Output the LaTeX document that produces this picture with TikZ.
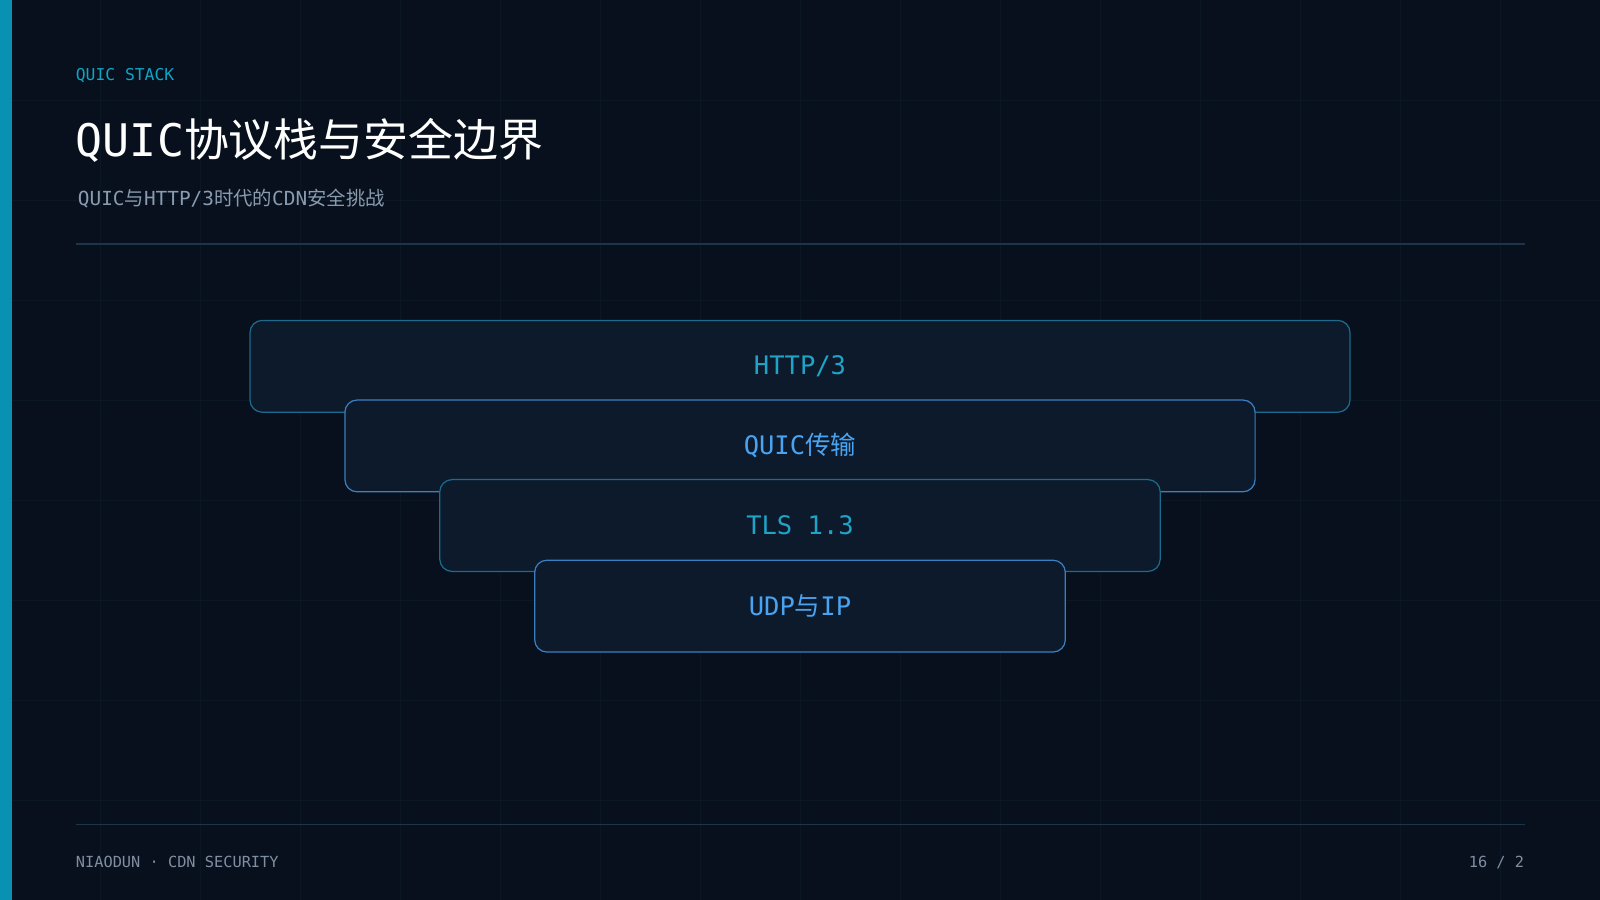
\documentclass[tikz,border=0pt]{standalone}
\usepackage{fontspec}
\setmainfont{DejaVu Sans Mono}
\newfontfamily\cjk{Noto Sans CJK SC}
\newfontfamily\mono{DejaVu Sans Mono}
\begin{document}
\begin{tikzpicture}[x=0.5pt,y=-0.5pt,
  box/.style={draw=#1,line width=0.6pt,fill=boxfill,rounded corners=6pt},
  lbl/.style={font=\fontsize{12.5}{15}\selectfont\mono,anchor=center}]
\definecolor{bg}{HTML}{07101C}
\definecolor{gridc}{HTML}{0B1724}
\definecolor{bar}{HTML}{0891B2}
\definecolor{kick}{HTML}{0EA5C6}
\definecolor{sub}{HTML}{8A9BB0}
\definecolor{rule}{HTML}{1E3448}
\definecolor{boxfill}{HTML}{0C1A2C}
\definecolor{cyanb}{HTML}{1C6B8C}
\definecolor{blueb}{HTML}{3B7FC0}
\definecolor{cyant}{HTML}{1FA3C6}
\definecolor{bluet}{HTML}{4AA3F0}
\definecolor{foot}{HTML}{7F8EA0}
\useasboundingbox (0,0) rectangle (1568,882);
\fill[bg] (0,0) rectangle (1568,882);
\foreach \x in {98,196,...,1568} \draw[gridc,line width=0.4pt] (\x,0) -- (\x,882);
\foreach \y in {98,196,...,882} \draw[gridc,line width=0.4pt] (0,\y) -- (1568,\y);
\fill[bar] (0,0) rectangle (12,882);
\node[anchor=west,inner sep=0,text=kick,font=\fontsize{8}{10}\selectfont\mono] (k) at (74,74) {QUIC STACK};
\node[anchor=west,inner sep=0,text=white,font=\fontsize{22}{27}\selectfont] (t) at (74,138) {\mono QUIC\cjk 协议栈与安全边界};
\node[anchor=west,inner sep=0,text=sub,font=\fontsize{9.5}{12}\selectfont] (s) at (76,195) {\mono QUIC\cjk 与\mono HTTP/3\cjk 时代的\mono CDN\cjk 安全挑战};
\coordinate (r1a) at (74,239); \coordinate (r1b) at (1494,239);
\draw[rule,line width=0.8pt] (r1a) -- (r1b);
\coordinate (r2a) at (74,808); \coordinate (r2b) at (1494,808);
\draw[rule,line width=0.8pt] (r2a) -- (r2b);
\node[box=cyanb] (b1) at (784,359) [minimum width=539pt,minimum height=45pt] {};
\node[lbl,text=cyant] at (b1) {HTTP/3};
\node[box=blueb] (b2) at (784,437) [minimum width=446pt,minimum height=45pt] {};
\node[lbl,text=bluet] at (b2) {QUIC{\cjk 传输}};
\node[box=cyanb] (b3) at (784,515) [minimum width=353pt,minimum height=45pt] {};
\node[lbl,text=cyant] at (b3) {TLS 1.3};
\node[box=blueb] (b4) at (784,594) [minimum width=260pt,minimum height=45pt] {};
\node[lbl,text=bluet] at (b4) {UDP{\cjk 与}IP};
\node[anchor=west,inner sep=0,text=foot,font=\fontsize{7.5}{9}\selectfont\mono] (f1) at (74,845) {NIAODUN · CDN SECURITY};
\node[anchor=east,inner sep=0,text=foot,font=\fontsize{7.5}{9}\selectfont\mono] (f2) at (1494,845) {16 / 2};
\end{tikzpicture}
\end{document}
